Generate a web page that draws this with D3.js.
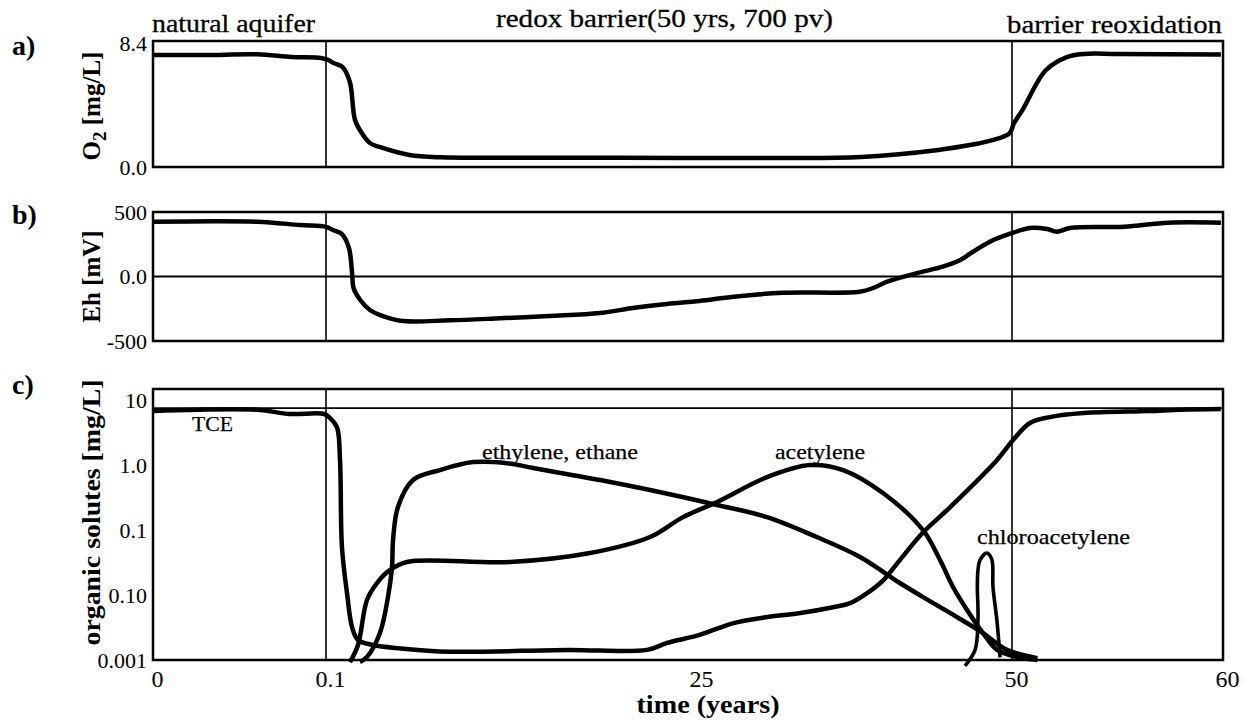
<!DOCTYPE html>
<html>
<head>
<meta charset="utf-8">
<script src="https://cdn.jsdelivr.net/npm/d3@7"></script>
<style>
  body { margin: 0; background: #fff; }
  svg text { font-family: "Liberation Serif", "Times New Roman", serif; fill: #000; }
</style>
</head>
<body>
<svg id="chart" width="1245" height="723"></svg>
<script>
// ---- time axis (years) ----
const timeTicks = [0, 0.1, 25, 50, 60];
const timeTickLabels = ["0", "0.1", "25", "50", "60"];
const phaseBounds = [0.1, 50];
const phaseLabels = ["natural aquifer", "redox barrier(50 yrs, 700 pv)", "barrier reoxidation"];

// ---- a) dissolved oxygen [mg/L] : [time, value] ----
const o2 = [
  [0, 7.64], [0.03, 7.64], [0.06, 7.69], [0.08, 7.51], [0.097, 7.44], [0.1, 7.35],
  [0.25, 7.3], [0.6, 7.1], [1.2, 6.83], [1.7, 5.8], [2.05, 3.21], [2.5, 2.32],
  [3.05, 1.64], [3.9, 1.3], [5.7, 0.82], [7.8, 0.66], [12, 0.63], [20, 0.63],
  [30, 0.62], [38, 0.68], [44, 1.15], [47, 1.55], [48.5, 1.85], [49.8, 2.3],
  [50.1, 3.0], [50.5, 3.9], [51.6, 6.6], [52.6, 7.5], [53.4, 7.72], [55, 7.72], [59.9, 7.68]
];
const o2Ticks = [0, 8.4];
const o2TickLabels = ["0.0", "8.4"];

// ---- b) redox potential Eh [mV] ----
const eh = [
  [0, 425], [0.06, 425], [0.085, 399], [0.1, 385], [0.57, 360], [1.17, 329],
  [1.64, 221], [1.85, 27], [1.95, -89], [2.4, -182], [3.05, -260], [3.7, -298],
  [5.1, -343], [8.4, -340], [11.8, -324], [15.1, -306], [18.5, -283], [20.7, -244],
  [23, -213], [25.2, -190], [27.9, -157], [31.8, -126], [37.9, -118], [39, -89],
  [40.1, -40], [42.5, 27], [44.5, 76], [45.9, 128], [46.9, 192], [48.25, 270],
  [49.8, 330], [50.85, 376], [51.66, 368], [52.13, 347], [52.75, 376], [55.3, 386],
  [57.4, 417], [59.9, 417]
];
const ehTicks = [-500, 0, 500];
const ehTickLabels = ["-500", "0.0", "500"];

// ---- c) organic solutes [mg/L] ----
const tce = [
  [0, 6.8], [0.06, 7.1], [0.079, 6.1], [0.099, 6.1], [0.37, 5.3], [0.84, 3.8],
  [1.04, 1.19], [1.17, 0.055], [1.51, 0.0107], [1.85, 0.0032], [2.25, 0.00203],
  [3.25, 0.0017], [5.07, 0.00151], [8.4, 0.00134], [16.3, 0.00143], [21.65, 0.00143],
  [23, 0.00183], [25.2, 0.00243], [27.9, 0.0037], [30.6, 0.0046], [33.2, 0.0053],
  [35.8, 0.0065], [37.15, 0.0075], [38.5, 0.0107], [39.8, 0.017], [41.1, 0.0345],
  [42.9, 0.09], [45.1, 0.226], [48.8, 1.19], [50.05, 2.43], [50.85, 4.43],
  [51.8, 5.47], [53.4, 6.31], [56.5, 6.77], [58, 7.1], [59.9, 7.27]
];
const ethylene = [
  [2.38, 0.00093], [2.85, 0.00111], [3.72, 0.0026], [4.26, 0.0093], [4.53, 0.027],
  [4.6, 0.07], [4.93, 0.226], [5.94, 0.588], [7.75, 0.838], [9.97, 1.11],
  [12.25, 1.07], [14.0, 0.9], [18.49, 0.588], [21.85, 0.412], [26.6, 0.243],
  [30.56, 0.158], [34.5, 0.078], [37.94, 0.0385], [41.1, 0.0153], [42.94, 0.0093],
  [45.08, 0.0053], [47.7, 0.0026], [49.6, 0.00143], [51.2, 0.00107]
];
const acetylene = [
  [1.71, 0.00093], [2.25, 0.0017], [2.85, 0.0084], [3.52, 0.0153], [4.4, 0.0243],
  [5.54, 0.0322], [12.45, 0.0322], [17.82, 0.0443], [21.85, 0.078], [24.06, 0.158],
  [26.6, 0.27], [30.56, 0.653], [33.97, 1.0], [36.59, 0.838], [39.76, 0.371],
  [42.94, 0.1], [44.29, 0.0345], [45.32, 0.0133], [46.43, 0.0059],
  [47.7, 0.0026], [48.81, 0.00143], [50.24, 0.00111], [51.2, 0.001]
];
const chloroacetylene = [
  [46.27, 0.00081], [47.07, 0.00143], [47.3, 0.0041], [47.25, 0.014], [47.3, 0.0243],
  [47.46, 0.0345], [48.0, 0.0443], [48.4, 0.035], [48.49, 0.0133], [48.8, 0.0041],
  [49.05, 0.0011]
];
const tceSourceLevel = [7.5];
const soluteTicks = [0.001, 0.01, 0.1, 1, 10];
const soluteTickLabels = ["0.001", "0.10", "0.1", "1.0", "10"];

// curve names, anchored in data units (time, concentration)
const seriesLabels = [
  { name: "TCE", t: 0.0225, v: 3.4 },
  { name: "ethylene, ethane", t: 10.57, v: 1.24 },
  { name: "acetylene", t: 31.19, v: 1.24 },
  { name: "chloroacetylene", t: 47.22, v: 0.062 }
];
const seriesLabelWidths = [41, 156, 90, 153];

// ---- layout ----
const svg = d3.select("#chart");
const left = 153, right = 1223;
const x = d3.scaleLinear().domain(timeTicks).range([left, 326, 697, 1012, right]);

const panels = [
  { key: "a)", top: 41, bottom: 167 },
  { key: "b)", top: 212, bottom: 341 },
  { key: "c)", top: 389, bottom: 660 }
];
const yA = d3.scaleLinear().domain([0, 8.6]).range([panels[0].bottom, panels[0].top]);
const yB = d3.scaleLinear().domain([-500, 500]).range([panels[1].bottom, panels[1].top]);
const yC = d3.scaleLog().domain([0.001, 14.8]).range([panels[2].bottom, panels[2].top]);

function drawSeries(data, y, width) {
  svg.append("path")
    .datum(data)
    .attr("fill", "none")
    .attr("stroke", "#000")
    .attr("stroke-width", width)
    .attr("stroke-linejoin", "round")
    .attr("d", d3.line().x(d => x(d[0])).y(d => y(d[1])).curve(d3.curveCatmullRom.alpha(0.5)));
}

function yAxis(y, ticks, labels) {
  const g = svg.append("g")
    .attr("transform", `translate(${left},0)`)
    .call(d3.axisLeft(y).tickValues(ticks).tickSize(0).tickPadding(6)
      .tickFormat((d, i) => labels[i]));
  g.select(".domain").remove();
  g.selectAll("text").attr("font-size", 22).attr("font-family", "Liberation Serif");
}

// panel frames, phase boundaries
panels.forEach(p => {
  phaseBounds.forEach(t => {
    svg.append("line")
      .attr("x1", x(t)).attr("x2", x(t)).attr("y1", p.top).attr("y2", p.bottom)
      .attr("stroke", "#000").attr("stroke-width", 1.6);
  });
  svg.append("rect")
    .attr("x", left).attr("y", p.top)
    .attr("width", right - left).attr("height", p.bottom - p.top)
    .attr("fill", "none").attr("stroke", "#000").attr("stroke-width", 2.5);
});

// reference levels
svg.append("line").attr("x1", left).attr("x2", right)
  .attr("y1", yB(0)).attr("y2", yB(0)).attr("stroke", "#000").attr("stroke-width", 1.8);
tceSourceLevel.forEach(v => {
  svg.append("line").attr("x1", left).attr("x2", right)
    .attr("y1", yC(v)).attr("y2", yC(v)).attr("stroke", "#000").attr("stroke-width", 1.8);
});

// series
drawSeries(o2, yA, 4.5);
drawSeries(eh, yB, 4.5);
[tce, ethylene, acetylene].forEach(s => drawSeries(s, yC, 4.5));
drawSeries(chloroacetylene, yC, 3.6);

// axes
yAxis(yA, o2Ticks, o2TickLabels);
yAxis(yB, ehTicks, ehTickLabels);
yAxis(yC, soluteTicks, soluteTickLabels);

const xg = svg.append("g")
  .attr("transform", `translate(4,${panels[2].bottom})`)
  .call(d3.axisBottom(x).tickValues(timeTicks).tickSize(0).tickPadding(10)
    .tickFormat((d, i) => timeTickLabels[i]));
xg.select(".domain").remove();
xg.selectAll("text").attr("font-size", 24).attr("font-family", "Liberation Serif");

// phase headings
const headPos = [
  { x: 152, y: 32, w: 163 },
  { x: 496, y: 27, w: 337 },
  { x: 1007, y: 33, w: 215 }
];
phaseLabels.forEach((s, i) => {
  svg.append("text").text(s)
    .attr("x", headPos[i].x).attr("y", headPos[i].y)
    .attr("font-size", 26)
    .attr("stroke", "#000").attr("stroke-width", 0.3)
    .attr("textLength", headPos[i].w).attr("lengthAdjust", "spacingAndGlyphs");
});

// series labels
seriesLabels.forEach((l, i) => {
  svg.append("text").text(l.name)
    .attr("x", x(l.t)).attr("y", yC(l.v))
    .attr("font-size", 22)
    .attr("stroke", "#000").attr("stroke-width", 0.25)
    .attr("textLength", seriesLabelWidths[i]).attr("lengthAdjust", "spacingAndGlyphs");
});

// panel letters
panels.forEach((p, i) => {
  svg.append("text").text(p.key)
    .attr("x", 12).attr("y", [55, 224, 394][i])
    .attr("font-size", 28).attr("font-weight", "bold");
});

// axis titles
const titleX = 100;
const o2Title = svg.append("text")
  .attr("transform", `translate(${titleX},${(panels[0].top + panels[0].bottom) / 2 + 2}) rotate(-90)`)
  .attr("text-anchor", "middle").attr("font-size", 25).attr("font-weight", "bold");
o2Title.append("tspan").text("O");
o2Title.append("tspan").text("2").attr("font-size", 19).attr("dy", 6);
o2Title.append("tspan").text(" [mg/L]").attr("dy", -6);

svg.append("text").text("Eh [mV]")
  .attr("transform", `translate(${titleX},${(panels[1].top + panels[1].bottom) / 2}) rotate(-90)`)
  .attr("text-anchor", "middle").attr("font-size", 25).attr("font-weight", "bold");

svg.append("text").text("organic solutes [mg/L]")
  .attr("transform", `translate(${titleX},${(panels[2].top + panels[2].bottom) / 2 - 12}) rotate(-90)`)
  .attr("text-anchor", "middle").attr("font-size", 25).attr("font-weight", "bold")
  .attr("textLength", 266).attr("lengthAdjust", "spacingAndGlyphs");

svg.append("text").text("time (years)")
  .attr("x", 708).attr("y", 713)
  .attr("text-anchor", "middle").attr("font-size", 25).attr("font-weight", "bold")
  .attr("textLength", 143).attr("lengthAdjust", "spacingAndGlyphs");
</script>
</body>
</html>
